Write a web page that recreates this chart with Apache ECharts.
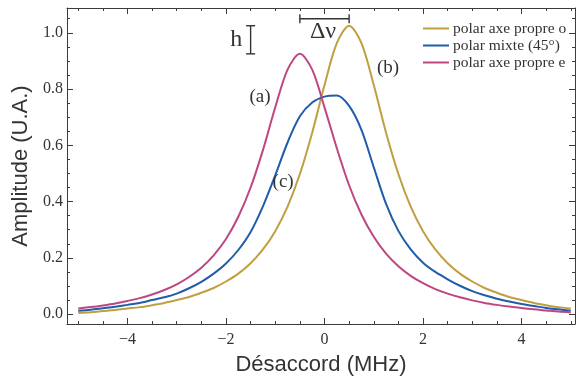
<!DOCTYPE html>
<html>
<head>
<meta charset="utf-8">
<script src="https://cdn.jsdelivr.net/npm/echarts@6/dist/echarts.min.js"></script>
<style>
html,body{margin:0;padding:0;background:#fff;}
#chart{width:576px;height:381px;}
</style>
</head>
<body>
<div id="chart"></div>
<script>
// ---- data ----
const detuning = [-5,-4.75,-4.5,-4.25,-4,-3.75,-3.5,-3.25,-3,-2.75,-2.5,-2.25,-2,-1.75,-1.5,-1.25,-1,-0.75,-0.5,-0.25,0,
  0.25,0.5,0.75,1,1.25,1.5,1.75,2,2.25,2.5,2.75,3,3.25,3.5,3.75,4,4.25,4.5,4.75,5];
const polarO = [0.004,0.007,0.011,0.015,0.020,0.025,0.032,0.040,0.050,0.061,0.076,0.093,0.116,0.144,0.181,0.230,0.295,0.382,0.498,0.645,0.814,
  0.963,1.025,0.963,0.814,0.645,0.498,0.382,0.295,0.230,0.181,0.144,0.116,0.093,0.076,0.061,0.050,0.040,0.032,0.025,0.020];
const polarMix = [0.012,0.016,0.021,0.026,0.033,0.040,0.050,0.060,0.073,0.092,0.115,0.144,0.180,0.228,0.292,0.383,0.493,0.610,0.703,0.752,0.773,
  0.777,0.740,0.655,0.522,0.392,0.296,0.230,0.183,0.150,0.124,0.101,0.082,0.067,0.055,0.045,0.036,0.029,0.022,0.017,0.012];
const polarE = [0.020,0.025,0.031,0.038,0.047,0.057,0.070,0.086,0.106,0.132,0.165,0.209,0.267,0.346,0.450,0.583,0.735,0.869,0.925,0.869,0.735,
  0.590,0.458,0.354,0.275,0.215,0.170,0.136,0.110,0.089,0.073,0.060,0.049,0.040,0.033,0.027,0.022,0.017,0.013,0.009,0.006];
const seriesNames = ['polar axe propre o','polar mixte (45°)','polar axe propre e'];
const xMajorTicks = [-4,-2,0,2,4];
const xMinorTicks = [-5,-4.5,-4,-3.5,-3,-2.5,-2,-1.5,-1,-0.5,0,0.5,1,1.5,2,2.5,3,3.5,4,4.5,5];
const yMajorTicks = [0,0.2,0.4,0.6,0.8,1.0];
const yMinorTicks = [0,0.05,0.1,0.15,0.2,0.25,0.3,0.35,0.4,0.45,0.5,0.55,0.6,0.65,0.7,0.75,0.8,0.85,0.9,0.95,1.0,1.05];
// annotations: curve labels
const annoText = ['(a)','(b)','(c)'];
const annoX = [-1.31,1.29,-0.84];
const annoY = [0.77,0.876,0.47];
// h bracket (between the two peak heights) and Δν bracket (between the two peak positions)
const hBracket = {x:-1.5, y0:0.925, y1:1.025, label:'h', lx:-1.79, ly:0.975};
const dnuBracket = {x0:-0.5, x1:0.5, y:1.05, label:'Δν', lx:-0.03, ly:1.003};

// ---- chart ----
const XMIN = -5.228, XMAX = 5.086, YMIN = -0.035, YMAX = 1.088;
const frame = '#3c3c3c';
const serif = '"Liberation Serif","DejaVu Serif",serif';
const sans = '"Liberation Sans",Arial,sans-serif';
const colors = ['#BF9F3F','#1F5CAB','#BE4683'];

function xAxisDef(pos, ticks, len, showLine, showLabel, extra) {
  return Object.assign({
    type:'value', min:XMIN, max:XMAX, position:pos,
    axisLine:{show:showLine, onZero:false, lineStyle:{color:frame,width:1}},
    axisTick:{show:true, inside:true, length:len, customValues:ticks, lineStyle:{color:frame,width:1}},
    axisLabel:{show:showLabel, customValues:xMajorTicks, margin:8, fontFamily:serif, fontSize:16, color:'#333',
      formatter:v => (v<0 ? '\u2212'+Math.abs(v) : String(v))},
    splitLine:{show:false}
  }, extra||{});
}
function yAxisDef(pos, ticks, len, showLine, showLabel, extra) {
  return Object.assign({
    type:'value', min:YMIN, max:YMAX, position:pos,
    axisLine:{show:showLine, onZero:false, lineStyle:{color:frame,width:1}},
    axisTick:{show:true, inside:true, length:len, customValues:ticks, lineStyle:{color:frame,width:1}},
    axisLabel:{show:showLabel, customValues:yMajorTicks, margin:4, fontFamily:serif, fontSize:16, color:'#333',
      formatter:v => v.toFixed(1)},
    splitLine:{show:false}
  }, extra||{});
}

const chart = echarts.init(document.getElementById('chart'), null, {renderer:'canvas'});
const lines = [polarO, polarMix, polarE].map((vals,i) => ({
  type:'line', name:seriesNames[i], xAxisIndex:0, yAxisIndex:0,
  data: detuning.map((x,j)=>[x, vals[j]]),
  smooth:0.3, showSymbol:false, symbol:'none',
  lineStyle:{color:colors[i], width:2}, itemStyle:{color:colors[i]},
  z: 3
}));

const annoSeries = {
  type:'custom', xAxisIndex:0, yAxisIndex:0, silent:true, z:5,
  data: annoText.map((t,i)=>[annoX[i], annoY[i], i]),
  renderItem:(params, api) => {
    const p = api.coord([api.value(0), api.value(1)]);
    return {type:'text', x:p[0], y:p[1], style:{text:annoText[api.value(2)], fill:'#333',
      font:'19px '+serif, textAlign:'center', textVerticalAlign:'middle'}};
  }
};
const bracketSeries = {
  type:'custom', xAxisIndex:0, yAxisIndex:0, silent:true, z:5,
  data:[[0,0]],
  renderItem:(params, api) => {
    const a = api.coord([hBracket.x, hBracket.y0]);
    const b = api.coord([hBracket.x, hBracket.y1]);
    const c = api.coord([dnuBracket.x0, dnuBracket.y]);
    const d = api.coord([dnuBracket.x1, dnuBracket.y]);
    const hl = api.coord([hBracket.lx, hBracket.ly]);
    const dl = api.coord([dnuBracket.lx, dnuBracket.ly]);
    const st = {stroke:'#333', lineWidth:1.4};
    const cap = 4.5;
    return {type:'group', children:[
      {type:'line', shape:{x1:a[0],y1:a[1],x2:b[0],y2:b[1]}, style:st},
      {type:'line', shape:{x1:a[0]-cap,y1:a[1],x2:a[0]+cap,y2:a[1]}, style:st},
      {type:'line', shape:{x1:b[0]-cap,y1:b[1],x2:b[0]+cap,y2:b[1]}, style:st},
      {type:'line', shape:{x1:c[0],y1:c[1],x2:d[0],y2:d[1]}, style:st},
      {type:'line', shape:{x1:c[0],y1:c[1]-cap,x2:c[0],y2:c[1]+cap}, style:st},
      {type:'line', shape:{x1:d[0],y1:d[1]-cap,x2:d[0],y2:d[1]+cap}, style:st},
      {type:'text', x:hl[0], y:hl[1], style:{text:hBracket.label, fill:'#333', font:'24px '+serif, textAlign:'center', textVerticalAlign:'middle'}},
      {type:'text', x:dl[0], y:dl[1], style:{text:dnuBracket.label, fill:'#333', font:'24px '+serif, textAlign:'center', textVerticalAlign:'middle'}}
    ]};
  }
};

chart.setOption({
  animation:false,
  backgroundColor:'#fff',
  grid:{left:67, right:1, top:8, bottom:55, containLabel:false},
  legend:{
    orient:'vertical', left:418, top:15, itemWidth:26, itemHeight:2, itemGap:0, icon:'rect',
    data:seriesNames,
    textStyle:{fontFamily:serif, fontSize:15.5, color:'#333', lineHeight:17, padding:[0,0,0,-1]}
  },
  xAxis:[
    xAxisDef('bottom', xMajorTicks, 6, true, true,
      {name:'Désaccord (MHz)', nameLocation:'middle', nameGap:30,
       nameTextStyle:{fontFamily:sans, fontSize:22, color:'#333'}}),
    xAxisDef('bottom', xMinorTicks, 3, false, false),
    xAxisDef('top', xMajorTicks, 6, true, false),
    xAxisDef('top', xMinorTicks, 3, false, false)
  ],
  yAxis:[
    yAxisDef('left', yMajorTicks, 6, true, true,
      {name:'Amplitude (U.A.)', nameLocation:'middle', nameGap:31,
       nameTextStyle:{fontFamily:sans, fontSize:22, color:'#333'}}),
    yAxisDef('left', yMinorTicks, 3, false, false),
    yAxisDef('right', yMajorTicks, 6, true, false),
    yAxisDef('right', yMinorTicks, 3, false, false)
  ],
  series: lines.concat([annoSeries, bracketSeries])
});
</script>
</body>
</html>
